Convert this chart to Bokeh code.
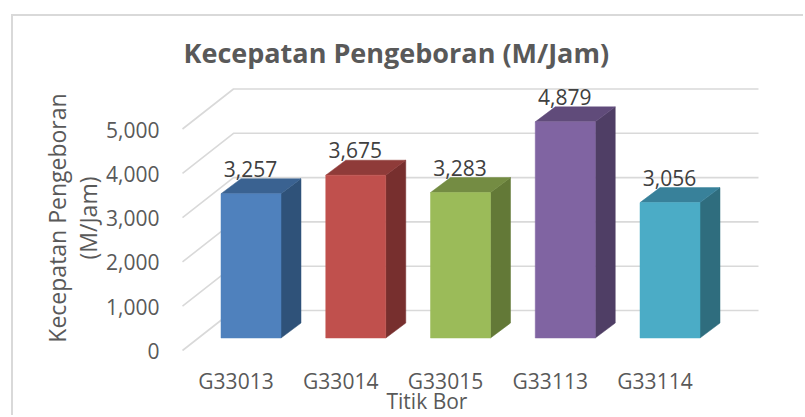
from bokeh.plotting import figure
from bokeh.models import Range1d, LinearAxis, FixedTicker, Title
from bokeh.core.properties import value
from bokeh.embed import file_html
from bokeh.resources import INLINE

categories = ["G33013", "G33014", "G33015", "G33113", "G33114"]
speeds = [3257, 3675, 3283, 4879, 3056]
data_labels = ["3,257", "3,675", "3,283", "4,879", "3,056"]
y_ticks = [0, 1000, 2000, 3000, 4000, 5000]
y_tick_labels = ["0", "1,000", "2,000", "3,000", "4,000", "5,000"]
front_colors = ["#4F81BD", "#C0504D", "#9BBB59", "#8064A2", "#4BACC6"]
side_colors = ["#2F5279", "#772F2E", "#637937", "#4F3E65", "#2F6D7E"]
top_colors = ["#3A6291", "#8F3B39", "#748C43", "#604B7A", "#38819A"]

FONT = "Open Sans"
TEXT = "#595959"
GRID = "#D9D9D9"
OX, OY = 13, 16                   # figure origin in the window, px
W, H = 792, 401
FL, FT, FB = 168, 75, 360         # frame edges in the window, px
ML, MT, MB = FL - OX, FT - OY, OY + H - FB
PX_X, PX_Y = 104.75, 0.0443       # px per category, px per unit
BAR_X0 = 250.5 - FL               # px of category 0 inside the frame
BAR_Y0 = 337.5 - FT               # px of value 0 inside the frame
FW, FH = W - ML, H - MT - MB

def xr(origin):
    return Range1d(start=-origin / PX_X, end=(FW - origin) / PX_X)

def yr(origin):
    return Range1d(start=(origin - FH) / PX_Y, end=origin / PX_Y)

p = figure(width=W, height=H, output_backend="svg", toolbar_location=None,
           x_range=xr(BAR_X0), y_range=yr(BAR_Y0),
           x_axis_location=None, y_axis_location=None,
           min_border_left=ML, min_border_right=0, min_border_top=MT, min_border_bottom=MB,
           background_fill_color="white", border_fill_color="white")
p.margin = (OY, 0, 0, OX)
p.styles = {"box-shadow": "-2px -2px 0 0 " + GRID}
p.outline_line_color = None
p.grid.visible = False

p.extra_x_ranges["labels"] = xr(235.5 - FL)
p.extra_y_ranges["wall"] = yr(350.5 - FT)

# walls: depth offsets in data units
half = 30 / PX_X
dx = 20 / PX_X
dy = 15 / PX_Y
wall_front_x = (182 - 250.5) / PX_X
wall_back_x = (233 - 250.5) / PX_X
wall_right_x = (758 - 250.5) / PX_X
wall_front_dy = -12.5 / PX_Y
wall_back_dy = 27.5 / PX_Y

for t in y_ticks:
    p.line([wall_front_x, wall_back_x, wall_right_x],
           [t + wall_front_dy, t + wall_back_dy, t + wall_back_dy],
           line_color=GRID, line_width=1.6)

for i, v in enumerate(speeds):
    l, r = i - half, i + half
    p.patch([r, r + dx, r + dx, r], [0, dy, v + dy, v],
            fill_color=side_colors[i], line_color=side_colors[i], line_width=0.5)
    p.patch([l, r, r + dx, l + dx], [v, v, v + dy, v + dy],
            fill_color=top_colors[i], line_color=top_colors[i], line_width=0.5)
    p.quad(left=l, right=r, bottom=0, top=v,
           fill_color=front_colors[i], line_color=front_colors[i], line_width=0.5)

p.text(x=list(range(len(speeds))), y=speeds, text=data_labels, y_offset=-25, x_offset=-0.5,
       text_align="center", text_baseline="middle", text_color="#404040",
       text_font=value(FONT), text_font_size="21px")

yaxis = LinearAxis(y_range_name="wall", ticker=FixedTicker(ticks=y_ticks),
                   major_label_overrides=dict(zip(y_ticks, y_tick_labels)))
xaxis = LinearAxis(x_range_name="labels", ticker=FixedTicker(ticks=list(range(len(categories)))),
                   major_label_overrides=dict(enumerate(categories)))
for a in (xaxis, yaxis):
    a.axis_line_color = None
    a.major_tick_line_color = None
    a.minor_tick_line_color = None
    a.major_label_text_font = FONT
    a.major_label_text_color = TEXT
yaxis.major_label_text_font_size = "21px"
yaxis.major_label_standoff = 3
xaxis.major_label_text_font_size = "21px"
xaxis.major_label_standoff = 0
p.add_layout(yaxis, "left")
p.add_layout(xaxis, "below")

def caption(text, side, size, align, offset, standoff, valign="bottom"):
    p.add_layout(Title(text=text, text_font=FONT, text_font_size=size, text_color=TEXT,
                       text_font_style="normal", align=align, offset=offset,
                       standoff=standoff, vertical_align=valign), side)

caption("Titik Bor", "below", "21px", "left", 218, -22, "top")
caption("(M/Jam)", "left", "23px", "center", 0, 0)
caption("Kecepatan Pengeboran", "left", "23px", "center", 0, -6)

p.title.text = "Kecepatan Pengeboran (M/Jam)"
p.title.text_font = FONT
p.title.text_font_size = "27px"
p.title.text_font_style = "bold"
p.title.text_color = TEXT
p.title.align = "left"
p.title.offset = 15
p.title.standoff = 10

open("out.html", "w").write(file_html(p, INLINE))
